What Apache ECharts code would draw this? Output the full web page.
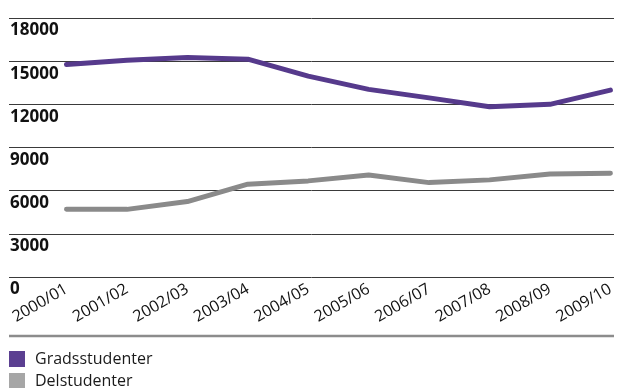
<!DOCTYPE html>
<html>
<head>
<meta charset="utf-8">
<script src="https://cdn.jsdelivr.net/npm/echarts@6/dist/echarts.min.js"></script>
<style>
  html, body { margin: 0; padding: 0; background: #fff; }
  #chart { width: 617px; height: 388px; }
</style>
</head>
<body>
<div id="chart"></div>
<script>
// Academic years on the category axis
const years = ['2000/01', '2001/02', '2002/03', '2003/04', '2004/05',
               '2005/06', '2006/07', '2007/08', '2008/09', '2009/10'];

// Student counts per year
const gradsstudenter = [14770, 15070, 15250, 15140, 13960, 13040, 12450, 11830, 12000, 12990];
const delstudenter   = [4710, 4700, 5240, 6450, 6680, 7090, 6560, 6750, 7160, 7210];

// Value axis ticks
const yMin = 0, yMax = 18000, yStep = 3000;

const purple = '#563a8c';
const grey = '#8a8a8a';

const chart = echarts.init(document.getElementById('chart'), null, { renderer: 'canvas' });

const gridTop = 18, gridBottom = 111;

chart.setOption({
  animation: false,
  backgroundColor: '#fff',
  textStyle: { fontFamily: 'Open Sans' },
  grid: [
    // full-width grid carrying the horizontal rules and value labels
    { left: 9, right: 3, top: gridTop, bottom: gridBottom, containLabel: false },
    // grid holding the lines, starting at the first year
    { left: 66.5, right: 3, top: gridTop, bottom: gridBottom, containLabel: false }
  ],
  xAxis: [
    {
      gridIndex: 0, type: 'value', min: 0, max: 1, show: false
    },
    {
      gridIndex: 1, type: 'category', data: years, boundaryGap: false,
      axisLine: { show: false }, axisTick: { show: false },
      axisLabel: {
        rotate: 30, margin: 11, fontSize: 16, color: '#111',
        fontFamily: 'Open Sans', interval: 0
      }
    }
  ],
  yAxis: [
    {
      gridIndex: 0, type: 'value', min: yMin, max: yMax, interval: yStep,
      axisLine: { show: false }, axisTick: { show: false },
      splitLine: { show: true, lineStyle: { color: '#3a3a3a', width: 1 } },
      axisLabel: {
        inside: true, margin: 1, verticalAlign: 'top', padding: [4, 0, 0, 0],
        fontSize: 17, fontWeight: 'bold', color: '#111', fontFamily: 'Open Sans',
        formatter: (v) => String(v)
      }
    },
    {
      gridIndex: 1, type: 'value', min: yMin, max: yMax, interval: yStep, show: false,
      splitLine: { show: false }
    }
  ],
  legend: {
    orient: 'vertical', left: 9, top: 351, height: 60, padding: 0,
    itemWidth: 16, itemHeight: 16, itemGap: 6,
    icon: 'rect',
    textStyle: { fontSize: 16, color: '#1a1a1a', fontFamily: 'Open Sans', padding: [0, 0, 0, 5] },
    data: [
      { name: 'Gradsstudenter', itemStyle: { color: '#5b3f91' } },
      { name: 'Delstudenter', itemStyle: { color: '#a6a6a6' } }
    ]
  },
  graphic: [
    {
      type: 'line', silent: true,
      shape: { x1: 9, y1: 336, x2: 614, y2: 336 },
      style: { stroke: '#8c8c8c', lineWidth: 2.5 }
    }
  ],
  series: [
    {
      name: 'Gradsstudenter', type: 'line', xAxisIndex: 1, yAxisIndex: 1,
      data: gradsstudenter, symbol: 'none', smooth: false,
      itemStyle: { color: purple },
      lineStyle: { color: purple, width: 5, cap: 'round', join: 'round' }
    },
    {
      name: 'Delstudenter', type: 'line', xAxisIndex: 1, yAxisIndex: 1,
      data: delstudenter, symbol: 'none', smooth: false,
      itemStyle: { color: grey },
      lineStyle: { color: grey, width: 5, cap: 'round', join: 'round' }
    }
  ]
});
</script>
</body>
</html>
